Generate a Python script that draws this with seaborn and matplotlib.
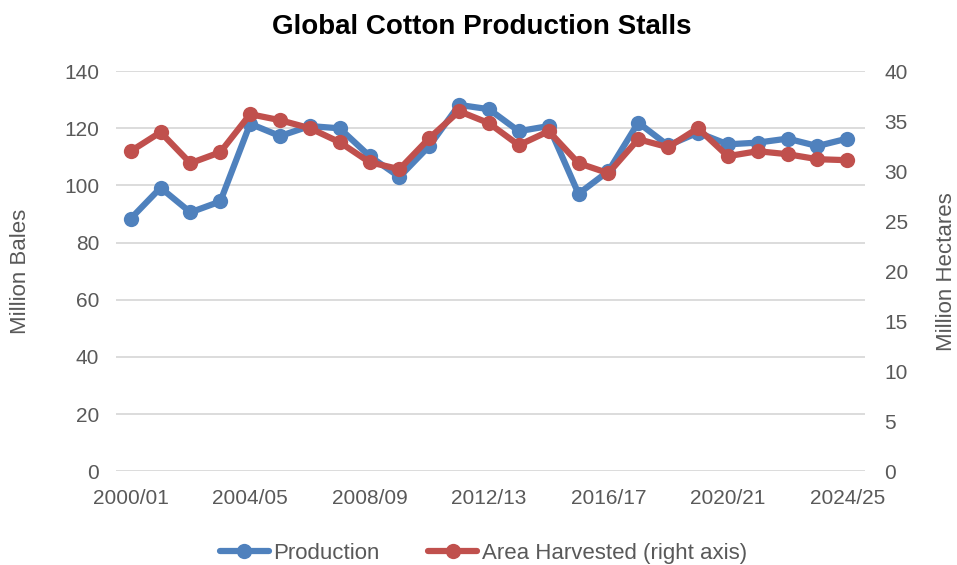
import pandas as pd
import matplotlib
matplotlib.use("Agg")
import matplotlib.pyplot as plt
import seaborn as sns

seasons = ["2000/01", "2001/02", "2002/03", "2003/04", "2004/05", "2005/06", "2006/07",
           "2007/08", "2008/09", "2009/10", "2010/11", "2011/12", "2012/13", "2013/14",
           "2014/15", "2015/16", "2016/17", "2017/18", "2018/19", "2019/20", "2020/21",
           "2021/22", "2022/23", "2023/24", "2024/25"]
production = [88.4, 99.2, 90.6, 94.4, 121.6, 117.3, 120.8, 120.0, 110.3, 103.0, 113.8,
              128.2, 126.7, 119.0, 120.8, 97.1, 105.0, 122.0, 114.0, 118.5, 114.4, 115.0,
              116.4, 113.8, 116.4]
area = [32.0, 33.9, 30.8, 31.9, 35.7, 35.1, 34.3, 32.9, 30.9, 30.2, 33.3, 36.0, 34.8,
        32.6, 34.0, 30.8, 29.8, 33.2, 32.4, 34.3, 31.5, 32.0, 31.7, 31.2, 31.1]

df = pd.DataFrame({"season": seasons, "production": production, "area": area})
df["pos"] = range(len(df))

sns.set_style("white")
plt.rcParams["font.family"] = ["Liberation Sans", "DejaVu Sans"]

blue = "#4F81BD"
red = "#C0504D"
grey = "#595959"

fig = plt.figure(figsize=(9.57, 5.65), dpi=100)
ax = fig.add_axes([0.121, 0.166, 0.783, 0.708])
ax2 = ax.twinx()

sns.lineplot(data=df, x="pos", y="production", ax=ax, color=blue, linewidth=4.5,
             marker="o", markersize=11, markeredgewidth=0, label="Production", legend=False)
sns.lineplot(data=df, x="pos", y="area", ax=ax2, color=red, linewidth=4.5,
             marker="o", markersize=11, markeredgewidth=0, label="Area Harvested (right axis)",
             legend=False)

ax.set_ylim(0, 140)
ax.set_yticks(range(0, 141, 20))
ax2.set_ylim(0, 40)
ax2.set_yticks(range(0, 41, 5))
ax.set_xlim(-0.5, 24.6)
ax.set_xticks(df["pos"][::4])
ax.set_xticklabels(df["season"][::4])

ax.grid(axis="y", color="#D9D9D9", linewidth=1.3)
ax.set_axisbelow(True)
for a in (ax, ax2):
    for s in a.spines.values():
        s.set_visible(False)
    a.tick_params(length=0, labelsize=15, colors=grey)
ax.tick_params(axis="y", pad=12)
ax2.tick_params(axis="y", pad=14)
ax.tick_params(axis="x", pad=13)

ax.set_xlabel("")
ax.set_ylabel("Million Bales", fontsize=16, color=grey)
ax2.set_ylabel("Million Hectares", fontsize=16, color=grey)
ax.yaxis.set_label_coords(-0.113, 0.5)
ax2.yaxis.set_label_coords(1.095, 0.5)

fig.suptitle("Global Cotton Production Stalls", fontsize=20, fontweight="bold",
             color="black", y=0.975, x=0.503)

h1, l1 = ax.get_legend_handles_labels()
h2, l2 = ax2.get_legend_handles_labels()
fig.legend(h1 + h2, l1 + l2, loc="center", bbox_to_anchor=(0.505, 0.02), ncol=2,
           frameon=False, fontsize=16, labelcolor=grey, handlelength=2.2,
           handletextpad=0.2, columnspacing=2.2)

fig.savefig("out.png", dpi=100)
